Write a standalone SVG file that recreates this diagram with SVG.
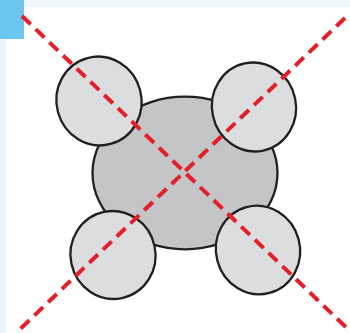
<svg xmlns="http://www.w3.org/2000/svg" width="350" height="333" viewBox="0 0 350 333">
  <style>
    .body { fill: #c4c5c7; stroke: #231f20; stroke-width: 2.3; }
    .lobe { fill: #dcdddf; stroke: #231f20; stroke-width: 2.3; }
    .cross { fill: none; stroke: #e3202a; stroke-width: 4; stroke-dasharray: 12 7; stroke-linecap: butt; }
  </style>
  <rect x="0" y="0" width="350" height="333" fill="#eef6fd"/>
  <rect x="6" y="7" width="344" height="326" fill="#ffffff"/>
  <rect x="0" y="0" width="24" height="39" fill="#6cc5ef"/>
  <g id="center">
    <ellipse class="body" cx="185" cy="173" rx="92.5" ry="76.3"/>
  </g>
  <g id="top-left">
    <ellipse class="lobe" cx="99" cy="101" rx="42.5" ry="44.5" transform="rotate(-15 99 101)"/>
  </g>
  <g id="top-right">
    <ellipse class="lobe" cx="254" cy="107" rx="42" ry="44.5" transform="rotate(-12 254 107)"/>
  </g>
  <g id="bottom-left">
    <ellipse class="lobe" cx="113" cy="255" rx="42.5" ry="44" transform="rotate(-12 113 255)"/>
  </g>
  <g id="bottom-right">
    <ellipse class="lobe" cx="258" cy="250" rx="42" ry="44.5" transform="rotate(-15 258 250)"/>
  </g>
  <g id="connectors">
    <line class="cross" x1="22" y1="16" x2="352" y2="333"/>
    <line class="cross" x1="345" y1="18" x2="16" y2="333"/>
  </g>
</svg>
